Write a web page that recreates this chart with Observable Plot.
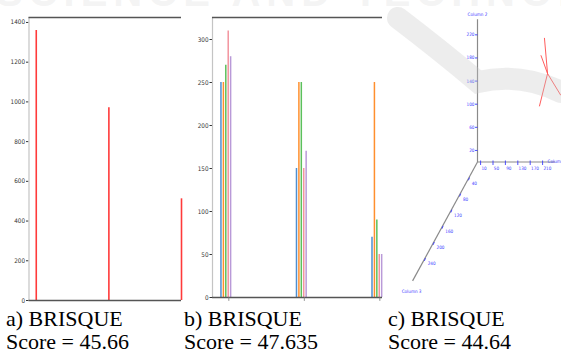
<!DOCTYPE html>
<html>
<head>
<meta charset="utf-8">
<script src="https://cdn.jsdelivr.net/npm/d3@7"></script>
<script src="https://cdn.jsdelivr.net/npm/@observablehq/plot@0.6"></script>
<style>
  html, body { margin: 0; padding: 0; background: #fff; }
  #wrap { position: relative; width: 561px; height: 356px; overflow: hidden; background: #fff; }
  .panel { position: absolute; top: 0; }
  .cap { position: absolute; top: 307px; font-family: "Liberation Serif", "Times New Roman", serif; font-size: 22px; line-height: 23px; color: #000; white-space: nowrap; }
  #wm { position: absolute; left: 0; top: 0; pointer-events: none; }
</style>
</head>
<body>
<div id="wrap">
  <div id="pa" class="panel" style="left:0px"></div>
  <div id="pb" class="panel" style="left:185px"></div>
  <div id="pc" class="panel" style="left:390px"></div>
  <div class="cap" style="left:6px">a) BRISQUE<br>Score = 45.66</div>
  <div class="cap" style="left:184px">b) BRISQUE<br>Score = 47.635</div>
  <div class="cap" style="left:388px">c) BRISQUE<br>Score = 44.64</div>
  <svg id="wm" width="561" height="356">
    <text x="-4" y="6" font-family="Liberation Sans, sans-serif" font-weight="bold" font-size="40" fill="#d8d8d8" fill-opacity="0.3" letter-spacing="6">SCIENCE AND TECHNOLOGY</text>
    <path d="M 398 18 Q 440 50 478 82 Q 520 72 561 92" fill="none" stroke="#c8c8c8" stroke-opacity="0.33" stroke-width="22" stroke-linecap="round"/>
  </svg>
</div>
<script>
// ---------- Panel a data ----------
const aCategories = [0, 1, 2];
const aValues = [1360, 970, 512];
const aTicks = [0, 200, 400, 600, 800, 1000, 1200, 1400];

// ---------- Panel b data ----------
const bCategories = [0, 1, 2];
const bSeries = ["s1", "s2", "s3", "s4", "s5"];
const bS1 = [250, 150, 70];
const bS2 = [250, 250, 250];
const bS3 = [270, 250, 90];
const bS4 = [310, 150, 50];
const bS5 = [280, 170, 50];
const bColors = ["#4f8fd0", "#ff8f2e", "#5cc05c", "#f3949e", "#b99ad8"];
const bTicks = [0, 50, 100, 150, 200, 250, 300];

// ---------- Panel c data (3-D) ----------
const cTicksU = [10, 50, 90, 130, 170, 210];
const cTicksV = [20, 60, 100, 140, 180, 220];
const cTicksW = [40, 80, 120, 160, 200, 240];
const cAxisEnds = [250, 247, 295]; // u, v, w
const cAxisLabels = ["Column 1", "Column 2", "Column 3"];
const cCurve1 = [[216, 214, 0], [226, 153, 0], [200, 97, 0]];
const cCurve2 = [[205, 184, 0], [226, 153, 0], [268, 116, 0]];

const tickFont = {fontFamily: "'DejaVu Sans', sans-serif", fontStretch: "condensed", fontSize: "6.3px", color: "#333", background: "transparent", overflow: "visible"};
const fmt = d => String(d);

// ---------- Panel a ----------
const aData = aCategories.map((c, i) => ({c, v: aValues[i]}));
const aX0 = -0.1, aX1 = 2.0, aTop = 1425;
document.getElementById("pa").append(Plot.plot({
  width: 185, height: 310,
  marginLeft: 28.5, marginRight: 4, marginTop: 17, marginBottom: 10,
  style: tickFont,
  x: {type: "linear", domain: [aX0, aX1], axis: null},
  y: {domain: [0, aTop], ticks: aTicks, tickFormat: fmt, tickSize: 2.5, tickPadding: 1.5, label: null},
  marks: [
    Plot.ruleX([aX0], {stroke: "#c4c4c4", strokeWidth: 1.2}),
    Plot.ruleX(aData, {x: "c", y1: 0, y2: "v", stroke: "#ff3a3a", strokeWidth: 1.6}),
    Plot.ruleY([0], {x1: aX0, x2: aX1, stroke: "#555", strokeWidth: 1.3}),
    Plot.ruleY([aTop], {x1: aX0, x2: aX1, stroke: "#555", strokeWidth: 1.3})
  ]
}));

// ---------- Panel b ----------
const bAll = [bS1, bS2, bS3, bS4, bS5];
const bOffset = 0.032;
const bData = [];
bCategories.forEach((c, gi) => {
  bSeries.forEach((s, si) => {
    bData.push({x: c + (si - 2) * bOffset, v: bAll[si][gi], s});
  });
});
const bX0 = -0.176, bX1 = 2.075, bTop = 325.6;
document.getElementById("pb").append(Plot.plot({
  width: 200, height: 310,
  marginLeft: 27, marginRight: 3, marginTop: 17, marginBottom: 13,
  style: tickFont,
  x: {type: "linear", domain: [bX0, bX1], axis: null},
  y: {domain: [0, bTop], ticks: bTicks, tickFormat: fmt, tickSize: 2.5, tickPadding: 1.5, label: null},
  color: {domain: bSeries, range: bColors},
  marks: [
    Plot.ruleX([bX0], {stroke: "#c4c4c4", strokeWidth: 1.2}),
    Plot.ruleX(bData, {x: "x", y1: 0, y2: "v", stroke: "s", strokeWidth: 1.5}),
    Plot.ruleY([0], {x1: bX0, x2: bX1, stroke: "#555", strokeWidth: 1.3}),
    Plot.ruleY([bTop], {x1: bX0, x2: bX1, stroke: "#555", strokeWidth: 1.3}),
    Plot.ruleX(bCategories.map(c => c + 0.04), {x: d => d, y1: 0, y2: -4.5, stroke: "#777", strokeWidth: 0.8, clip: false})
  ]
}));

// ---------- Panel c ----------
const ku = 0.31, kv = 0.578, kwx = -0.22, kwy = -0.403;
const proj = (u, v, w) => ({x: u * ku + w * kwx, y: v * kv + w * kwy});
const blue = "#3b3bff";
const cFont = {fontFamily: "'DejaVu Sans', sans-serif", fontStretch: "condensed", fontSize: "4.6px", background: "transparent", overflow: "visible"};

const axes = [
  [proj(0, 0, 0), proj(cAxisEnds[0], 0, 0)],
  [proj(0, 0, 0), proj(0, cAxisEnds[1], 0)],
  [proj(0, 0, 0), proj(0, 0, cAxisEnds[2])]
].map(([a, b]) => ({x1: a.x, y1: a.y, x2: b.x, y2: b.y}));

const tickU = cTicksU.map(t => { const p = proj(t, 0, 0); return {x1: p.x, y1: p.y - 3, x2: p.x, y2: p.y + 1.5, px: p.x + 0.8, py: p.y - 6.5, t}; });
const tickV = cTicksV.map(t => { const p = proj(0, t, 0); return {x1: p.x - 2.5, y1: p.y, x2: p.x, y2: p.y, px: p.x - 2.5, py: p.y, t}; });
const tickW = cTicksW.map(t => { const p = proj(0, 0, t); return {x1: p.x - 0.3, y1: p.y - 2.2, x2: p.x + 0.8, y2: p.y + 0.6, px: p.x + 3, py: p.y - 5, t}; });

const endU = proj(cAxisEnds[0], 0, 0), endV = proj(0, cAxisEnds[1], 0), endW = proj(0, 0, cAxisEnds[2]);
const axisLabelData = [
  {x: endU.x + 2.5, y: endU.y, t: cAxisLabels[0], a: "start"},
  {x: endV.x, y: endV.y + 5, t: cAxisLabels[1], a: "middle"},
  {x: endW.x - 1, y: endW.y - 11, t: cAxisLabels[2], a: "middle"}
];

const curves = [];
[cCurve1, cCurve2].forEach((c, ci) => c.forEach(([u, v, w]) => { const p = proj(u, v, w); curves.push({x: p.x, y: p.y, k: ci}); }));

document.getElementById("pc").append(Plot.plot({
  width: 171, height: 300, margin: 0,
  style: cFont,
  x: {domain: [-87, 84], axis: null},
  y: {domain: [-138.5, 161.5], axis: null},
  marks: [
    Plot.link(axes, {x1: "x1", y1: "y1", x2: "x2", y2: "y2", stroke: "#8a8a8a", strokeWidth: 1.2}),
    Plot.link([...tickU, ...tickV, ...tickW], {x1: "x1", y1: "y1", x2: "x2", y2: "y2", stroke: blue, strokeWidth: 0.9}),
    Plot.text(tickU, {x: "px", y: "py", text: d => String(d.t), fill: blue, textAnchor: "start"}),
    Plot.text(tickV, {x: "px", y: "py", text: d => String(d.t), fill: blue, textAnchor: "end", dx: -0.5}),
    Plot.text(tickW, {x: "px", y: "py", text: d => String(d.t), fill: blue, textAnchor: "start"}),
    Plot.text(axisLabelData, {x: "x", y: "y", text: "t", textAnchor: "a", fill: blue}),
    Plot.line(curves, {x: "x", y: "y", z: "k", stroke: "#ff4a4a", strokeWidth: 0.9, curve: "linear"})
  ]
}));
</script>
</body>
</html>
